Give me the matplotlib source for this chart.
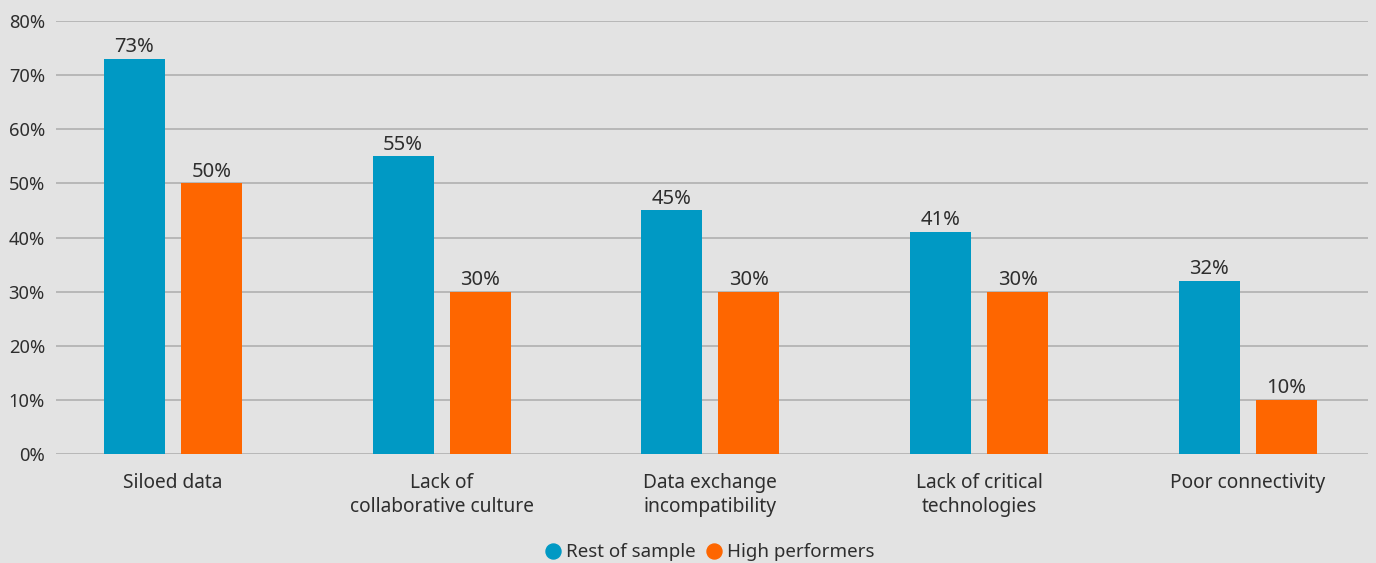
import matplotlib
matplotlib.use("Agg")
import matplotlib.pyplot as plt
import numpy as np
from matplotlib.lines import Line2D

categories = ["Siloed data", "Lack of\ncollaborative culture", "Data exchange\nincompatibility",
              "Lack of critical\ntechnologies", "Poor connectivity"]
rest_of_sample = [73, 55, 45, 41, 32]
high_performers = [50, 30, 30, 30, 10]
series_names = ["Rest of sample", "High performers"]
yticks = [0, 10, 20, 30, 40, 50, 60, 70, 80]

BLUE = "#0099c4"
ORANGE = "#fe6600"
BG = "#e3e3e3"
TEXT = "#2e2e2e"

plt.rcParams["font.family"] = ["Noto Sans", "DejaVu Sans"]

fig = plt.figure(figsize=(13.76, 5.63), dpi=100, facecolor=BG)
ax = fig.add_axes([0.0407, 0.1936, 0.9535, 0.7691], facecolor=BG)

x = np.arange(len(categories))
w = 0.227
off = 0.1433
b1 = ax.bar(x - off, rest_of_sample, w, color=BLUE, zorder=3)
b2 = ax.bar(x + off, high_performers, w, color=ORANGE, zorder=3)

for bars, vals in ((b1, rest_of_sample), (b2, high_performers)):
    for r, v in zip(bars, vals):
        ax.text(r.get_x() + r.get_width() / 2, v + 0.3, f"{v}%", ha="center", va="bottom",
                fontsize=14.5, color=TEXT)

ax.set_xlim(-0.435, 4.447)
ax.set_ylim(0, 80)
ax.set_yticks(yticks)
ax.set_yticklabels([f"{t}%" for t in yticks], fontsize=13.2, color=TEXT)
ax.set_xticks(x)
ax.set_xticklabels(categories, fontsize=13.8, color=TEXT, linespacing=1.22)
ax.tick_params(axis="both", length=0)
ax.tick_params(axis="x", pad=14)
ax.tick_params(axis="y", pad=8)
ax.grid(axis="y", color="#b4b4b4", linewidth=1.3, zorder=0)
for s in ax.spines.values():
    s.set_visible(False)

handles = [Line2D([], [], marker="o", linestyle="none", markersize=10.8, color=c)
           for c in (BLUE, ORANGE)]
fig.legend(handles, series_names, loc="center", bbox_to_anchor=(0.516, 0.019), ncol=2,
           frameon=False, fontsize=13.5, handlelength=0.8, handletextpad=0.3,
           columnspacing=0.55, labelcolor=TEXT)

fig.savefig("out.png", dpi=100, facecolor=BG)
